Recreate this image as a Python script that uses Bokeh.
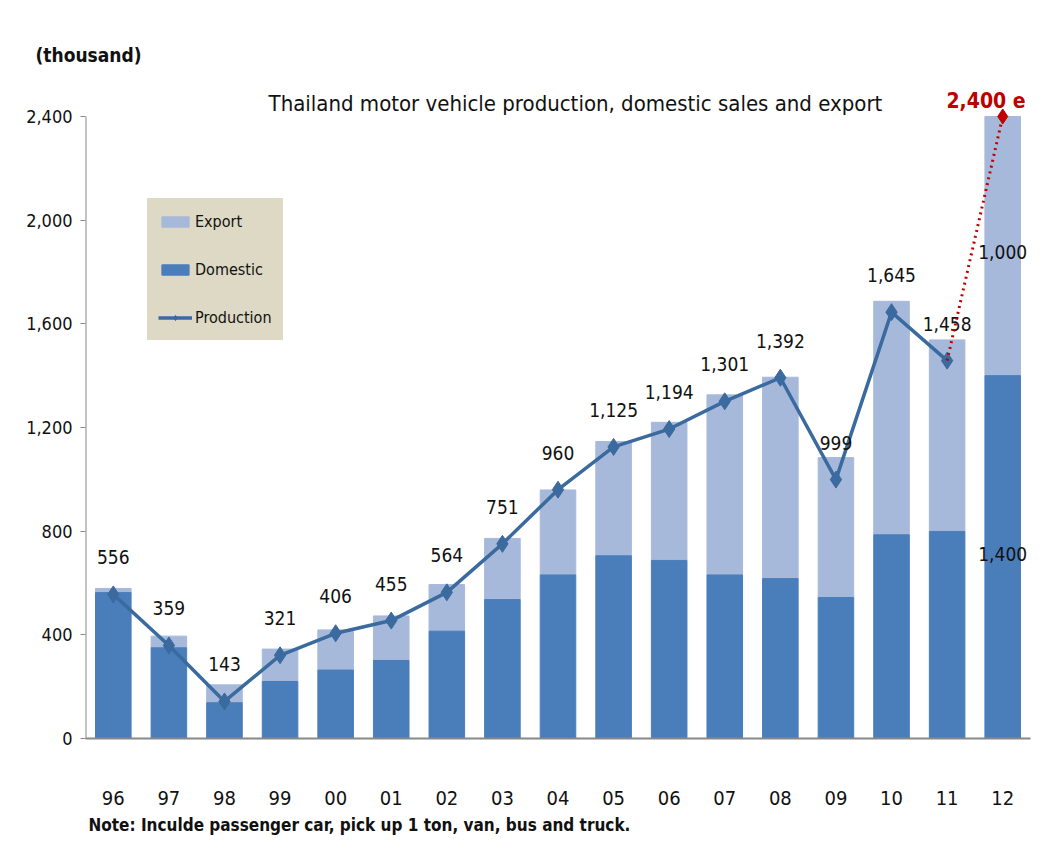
from bokeh.plotting import figure
from bokeh.models import (ColumnDataSource, FixedTicker, NumeralTickFormatter, Legend,
                          LegendItem, Title, Range1d)
from bokeh.core.properties import value
from bokeh.embed import file_html
from bokeh.resources import INLINE

years = ["96", "97", "98", "99", "00", "01", "02", "03", "04", "05", "06", "07", "08", "09", "10", "11", "12"]
domestic = [563, 350, 138, 220, 264, 301, 414, 536, 631, 705, 687, 631, 617, 544, 786, 799, 1400]
total = [579, 395, 207, 345, 419, 473, 594, 772, 959, 1146, 1220, 1326, 1394, 1084, 1687, 1538, 2400]
production = [556, 359, 143, 321, 406, 455, 564, 751, 960, 1125, 1194, 1301, 1392, 999, 1645, 1458]
prod_labels = ["556", "359", "143", "321", "406", "455", "564", "751", "960", "1,125", "1,194",
               "1,301", "1,392", "999", "1,645", "1,458"]
forecast = [1458, 2400]
seg_labels_2012 = ["1,000", "1,400"]
seg_values_2012 = [1900, 700]
y_ticks = [0, 400, 800, 1200, 1600, 2000, 2400]

FONT = "DejaVu Sans Condensed, Liberation Sans, sans-serif"
DOM_C = "#4a7ebb"
EXP_C = "#a7b9db"
LINE_C = "#3b6a9f"
RED = "#c00000"
LEG_BG = "#ddd9c4"

idx = list(range(len(years)))
bars = ColumnDataSource(dict(x=idx, dom=domestic, tot=total))
prod_src = ColumnDataSource(dict(x=idx[:len(production)], y=production, lab=prod_labels))

p = figure(width=1046, height=856, frame_width=945, frame_height=668,
           x_range=Range1d(-0.5, len(years) - 0.5),
           y_range=Range1d(0, 2400 * 668 / 622),
           output_backend="svg", toolbar_location=None,
           min_border_left=85, min_border_right=16, min_border_top=70, min_border_bottom=116)
p.outline_line_color = None
p.grid.visible = False
p.background_fill_color = "white"
p.border_fill_color = "white"

r_exp = p.vbar(x="x", bottom="dom", top="tot", width=0.64, color=EXP_C, source=bars)
r_dom = p.vbar(x="x", bottom=0, top="dom", width=0.64, color=DOM_C, source=bars)

# y axis line only up to the last tick
p.segment(x0=[-0.5], y0=[0], x1=[-0.5], y1=[y_ticks[-1]], line_color="#888888", line_width=2)

r_line = p.line("x", "y", source=prod_src, line_color=LINE_C, line_width=3.5)
r_pts = p.scatter("x", "y", source=prod_src, marker="diamond", size=17, fill_color=LINE_C,
                  line_color=LINE_C)
p.text("x", "y", text="lab", source=prod_src, text_font=value(FONT), text_font_size="19px",
       text_align="center", text_baseline="middle", y_offset=-37, text_color="#111111")

# forecast
p.line([idx[-2], idx[-1]], forecast, line_color=RED, line_width=3, line_dash="dotted")
p.scatter([idx[-1]], [forecast[-1]], marker="diamond", size=15, fill_color=RED, line_color=RED)
p.text([idx[-1] - 0.3], [forecast[-1]], text=["2,400 e"], text_font=value(FONT),
       text_font_size="21px", text_font_style="bold", text_color=RED,
       text_align="center", text_baseline="middle", y_offset=-16)
p.text([idx[-1], idx[-1]], seg_values_2012, text=seg_labels_2012, text_font=value(FONT),
       text_font_size="19px", text_align="center", text_baseline="middle", y_offset=[6, -3],
       text_color="#111111")

# main title inside frame
p.text([8.37], [2400], text=["Thailand motor vehicle production,  domestic sales and export"],
       text_font=value(FONT), text_font_size="22px", text_align="center",
       text_baseline="middle", y_offset=-13, text_color="#111111")

# axes
p.yaxis.ticker = FixedTicker(ticks=y_ticks)
p.yaxis.formatter = NumeralTickFormatter(format="0,0")
p.yaxis.axis_line_color = None
p.yaxis.major_tick_line_color = "#888888"
p.yaxis.major_tick_out = 5
p.yaxis.major_tick_in = 0
p.yaxis.minor_tick_line_color = None
p.yaxis.major_label_text_font = FONT
p.yaxis.major_label_text_font_size = "18px"
p.yaxis.major_label_text_color = "#111111"
p.yaxis.major_label_standoff = 8

p.xaxis.ticker = FixedTicker(ticks=idx)
p.xaxis.major_label_overrides = {i: y for i, y in zip(idx, years)}
p.xaxis.axis_line_color = "#888888"
p.xaxis.axis_line_width = 2
p.xaxis.major_tick_line_color = None
p.xaxis.minor_tick_line_color = None
p.xaxis.major_label_text_font = FONT
p.xaxis.major_label_text_font_size = "20px"
p.xaxis.major_label_text_color = "#111111"
p.xaxis.major_label_standoff = 46

p.title.text = "(thousand)"
p.title.text_font = FONT
p.title.text_font_size = "19px"
p.title.text_font_style = "bold"
p.title.align = "left"
p.title.offset = -50
p.title.text_color = "#111111"

note = Title(text="Note: Inculde passenger car, pick up 1 ton, van, bus and truck.",
             text_font=FONT, text_font_size="17px", text_font_style="bold", align="left",
             offset=3, text_color="#111111")
p.add_layout(note, "below")

legend = Legend(items=[LegendItem(label="Export", renderers=[r_exp]),
                       LegendItem(label="Domestic", renderers=[r_dom]),
                       LegendItem(label="Production", renderers=[r_line, r_pts])],
                location=(62, 398), background_fill_color=LEG_BG, background_fill_alpha=1,
                border_line_color=LEG_BG, border_line_width=1,
                label_text_font=FONT, label_text_font_size="16px", label_text_color="#111111",
                glyph_width=34, glyph_height=13, label_height=24, spacing=24, padding=10,
                label_standoff=3, margin=0)
p.add_layout(legend)

open("out.html", "w").write(file_html(p, INLINE))
